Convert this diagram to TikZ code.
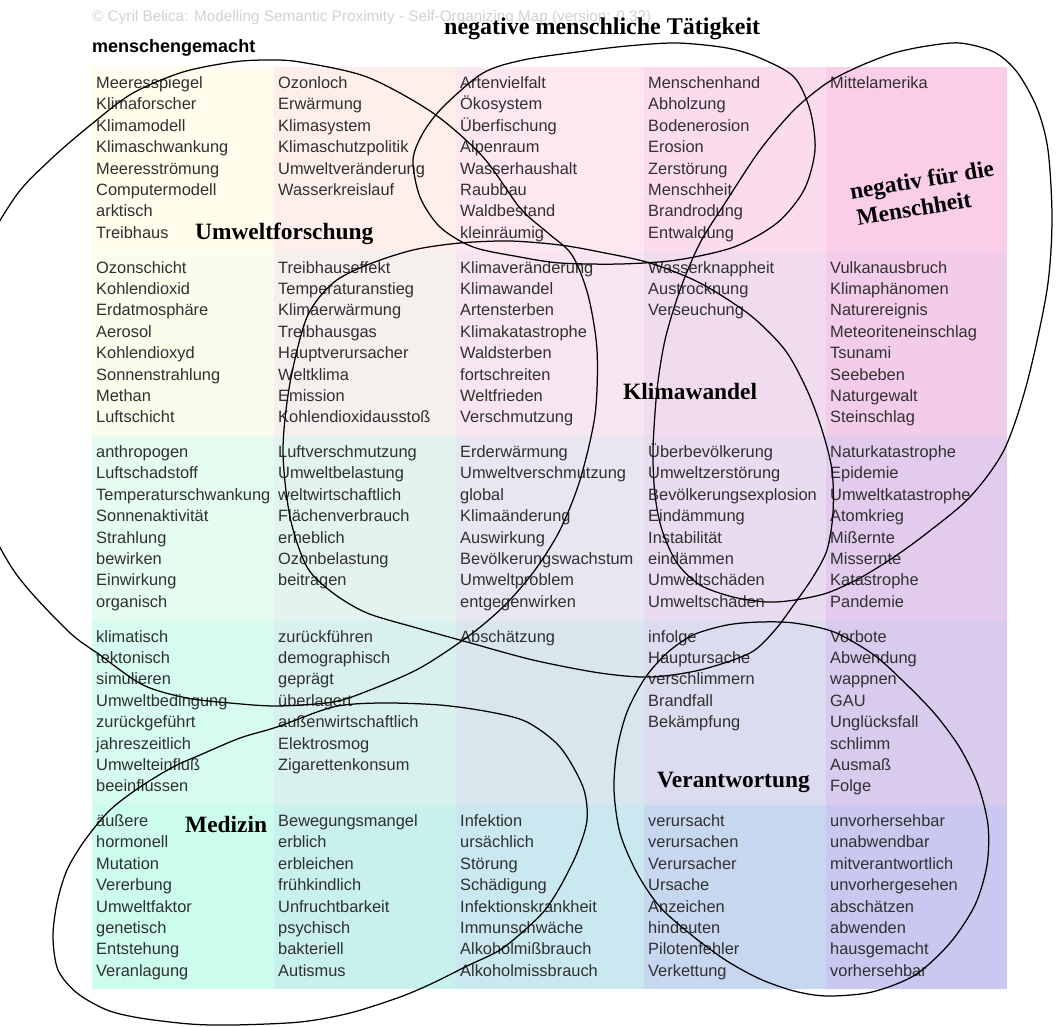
\documentclass[tikz,border=0pt]{standalone}
\usepackage{fontspec}
\setmainfont{Liberation Serif}
\newfontfamily\sansf{Liberation Sans}
\definecolor{wordgray}{HTML}{303030}
\definecolor{copygray}{HTML}{D2D2D2}
\definecolor{ca1}{HTML}{FFFDEB}\definecolor{ca2}{HTML}{FEEFEA}\definecolor{ca3}{HTML}{FEE7EE}\definecolor{ca4}{HTML}{FCDBEC}\definecolor{ca5}{HTML}{FACDE9}
\definecolor{cb1}{HTML}{F9FDEC}\definecolor{cb2}{HTML}{F5EFEE}\definecolor{cb3}{HTML}{F7E6EF}\definecolor{cb4}{HTML}{F1DCEF}\definecolor{cb5}{HTML}{F3CCE9}
\definecolor{cc1}{HTML}{E4FDF0}\definecolor{cc2}{HTML}{E3F3EF}\definecolor{cc3}{HTML}{E8E7F1}\definecolor{cc4}{HTML}{E9DCF1}\definecolor{cc5}{HTML}{E3CBEE}
\definecolor{cd1}{HTML}{D6FCEF}\definecolor{cd2}{HTML}{D8F1ED}\definecolor{cd3}{HTML}{D9E6EE}\definecolor{cd4}{HTML}{DCDCF0}\definecolor{cd5}{HTML}{D8CBEE}
\definecolor{ce1}{HTML}{CBFCEC}\definecolor{ce2}{HTML}{C8F0EC}\definecolor{ce3}{HTML}{C9E8EF}\definecolor{ce4}{HTML}{C8D7F0}\definecolor{ce5}{HTML}{C8C8F0}
\newcommand\wordfont{\sansf\fontsize{16.4}{20}\selectfont}
\newcommand\topicfont{\rmfamily\bfseries\fontsize{23.4}{27}\selectfont}
\newcommand\cellwords[4]{\foreach \myw [count=\idx from 0] in {#4} {\node[word] (#1-\idx) at (#2,{#3+21.5+21.4*\idx}) {\myw};}}
\begin{document}
\begin{tikzpicture}[x=1pt,y=-1pt,
  word/.style={anchor=base west, inner sep=0pt, font=\wordfont, text=wordgray},
  topic/.style={anchor=base west, inner sep=0pt, font=\topicfont, text=black},
  tiltedtopic/.style={anchor=center, inner sep=0pt, font=\topicfont, text=black, align=center, rotate=9.5},
  lasso/.style={draw=black, line width=1.25pt}]
\useasboundingbox (0,0) rectangle (1057,1026);
\clip (0,0) rectangle (1057,1026);
\fill[white] (0,0) rectangle (1057,1026);
% cell backgrounds
\fill[ca1] (92,67) rectangle (274.5,251.5);\fill[ca2] (274,67) rectangle (456.5,251.5);\fill[ca3] (456,67) rectangle (644.5,251.5);\fill[ca4] (644,67) rectangle (826.5,251.5);\fill[ca5] (826,67) rectangle (1007,251.5);
\fill[cb1] (92,251) rectangle (274.5,436.5);\fill[cb2] (274,251) rectangle (456.5,436.5);\fill[cb3] (456,251) rectangle (644.5,436.5);\fill[cb4] (644,251) rectangle (826.5,436.5);\fill[cb5] (826,251) rectangle (1007,436.5);
\fill[cc1] (92,436) rectangle (274.5,621);\fill[cc2] (274,436) rectangle (456.5,621);\fill[cc3] (456,436) rectangle (644.5,621);\fill[cc4] (644,436) rectangle (826.5,621);\fill[cc5] (826,436) rectangle (1007,621);
\fill[cd1] (92,620.5) rectangle (274.5,805.5);\fill[cd2] (274,620.5) rectangle (456.5,805.5);\fill[cd3] (456,620.5) rectangle (644.5,805.5);\fill[cd4] (644,620.5) rectangle (826.5,805.5);\fill[cd5] (826,620.5) rectangle (1007,805.5);
\fill[ce1] (92,805) rectangle (274.5,989);\fill[ce2] (274,805) rectangle (456.5,989);\fill[ce3] (456,805) rectangle (644.5,989);\fill[ce4] (644,805) rectangle (826.5,989);\fill[ce5] (826,805) rectangle (1007,989);
% words
\cellwords{a1}{96}{67}{Meeresspiegel,Klimaforscher,Klimamodell,Klimaschwankung,Meeresströmung,Computermodell,arktisch,Treibhaus}
\cellwords{a2}{278}{67}{Ozonloch,Erwärmung,Klimasystem,Klimaschutzpolitik,Umweltveränderung,Wasserkreislauf}
\cellwords{a3}{460}{67}{Artenvielfalt,Ökosystem,Überfischung,Alpenraum,Wasserhaushalt,Raubbau,Waldbestand,kleinräumig}
\cellwords{a4}{648}{67}{Menschenhand,Abholzung,Bodenerosion,Erosion,Zerstörung,Menschheit,Brandrodung,Entwaldung}
\cellwords{a5}{830}{67}{Mittelamerika}
\cellwords{b1}{96}{251.5}{Ozonschicht,Kohlendioxid,Erdatmosphäre,Aerosol,Kohlendioxyd,Sonnenstrahlung,Methan,Luftschicht}
\cellwords{b2}{278}{251.5}{Treibhauseffekt,Temperaturanstieg,Klimaerwärmung,Treibhausgas,Hauptverursacher,Weltklima,Emission,Kohlendioxidausstoß}
\cellwords{b3}{460}{251.5}{Klimaveränderung,Klimawandel,Artensterben,Klimakatastrophe,Waldsterben,fortschreiten,Weltfrieden,Verschmutzung}
\cellwords{b4}{648}{251.5}{Wasserknappheit,Austrocknung,Verseuchung}
\cellwords{b5}{830}{251.5}{Vulkanausbruch,Klimaphänomen,Naturereignis,Meteoriteneinschlag,Tsunami,Seebeben,Naturgewalt,Steinschlag}
\cellwords{c1}{96}{436}{anthropogen,Luftschadstoff,Temperaturschwankung,Sonnenaktivität,Strahlung,bewirken,Einwirkung,organisch}
\cellwords{c2}{278}{436}{Luftverschmutzung,Umweltbelastung,weltwirtschaftlich,Flächenverbrauch,erheblich,Ozonbelastung,beitragen}
\cellwords{c3}{460}{436}{Erderwärmung,Umweltverschmutzung,global,Klimaänderung,Auswirkung,Bevölkerungswachstum,Umweltproblem,entgegenwirken}
\cellwords{c4}{648}{436}{Überbevölkerung,Umweltzerstörung,Bevölkerungsexplosion,Eindämmung,Instabilität,eindämmen,Umweltschäden,Umweltschaden}
\cellwords{c5}{830}{436}{Naturkatastrophe,Epidemie,Umweltkatastrophe,Atomkrieg,Mißernte,Missernte,Katastrophe,Pandemie}
\cellwords{d1}{96}{620.5}{klimatisch,tektonisch,simulieren,Umweltbedingung,zurückgeführt,jahreszeitlich,Umwelteinfluß,beeinflussen}
\cellwords{d2}{278}{620.5}{zurückführen,demographisch,geprägt,überlagert,außenwirtschaftlich,Elektrosmog,Zigarettenkonsum}
\cellwords{d3}{460}{620.5}{Abschätzung}
\cellwords{d4}{648}{620.5}{infolge,Hauptursache,verschlimmern,Brandfall,Bekämpfung}
\cellwords{d5}{830}{620.5}{Vorbote,Abwendung,wappnen,GAU,Unglücksfall,schlimm,Ausmaß,Folge}
\cellwords{e1}{96}{805}{äußere,hormonell,Mutation,Vererbung,Umweltfaktor,genetisch,Entstehung,Veranlagung}
\cellwords{e2}{278}{805}{Bewegungsmangel,erblich,erbleichen,frühkindlich,Unfruchtbarkeit,psychisch,bakteriell,Autismus}
\cellwords{e3}{460}{805}{Infektion,ursächlich,Störung,Schädigung,Infektionskrankheit,Immunschwäche,Alkoholmißbrauch,Alkoholmissbrauch}
\cellwords{e4}{648}{805}{verursacht,verursachen,Verursacher,Ursache,Anzeichen,hindeuten,Pilotenfehler,Verkettung}
\cellwords{e5}{830}{805}{unvorhersehbar,unabwendbar,mitverantwortlich,unvorhergesehen,abschätzen,abwenden,hausgemacht,vorhersehbar}
% header texts
\node[anchor=base west, inner sep=0pt, text=copygray, font=\sansf\fontsize{15.3}{18}\selectfont] (copyright) at (92,21) {© Cyril Belica: Modelling Semantic Proximity - Self-Organizing Map (version: 0.32)};
\node[anchor=base west, inner sep=0pt, text=black, font=\sansf\bfseries\fontsize{18}{22}\selectfont] (menschengemacht) at (92,52) {menschengemacht};
\node[anchor=base west, inner sep=0pt, text=black, font=\rmfamily\bfseries\fontsize{24}{29}\selectfont] (negmt) at (444,34) {negative menschliche Tätigkeit};
% lassos
\draw[lasso] plot[smooth cycle] coordinates {(413,160) (423,133) (443,107) (483,73) (523,60) (577,52) (627,46) (677,43) (727,48) (760,58) (794,77) (810,110) (815,150) (804,190) (777,223) (734,247) (677,260) (620,264) (560,263) (520,257) (473,247) (440,227) (420,197)};
\draw[lasso] plot[smooth cycle] coordinates {(653,450) (657,390) (665,340) (680,290) (700,243) (727,200) (760,150) (794,110) (827,83) (860,66) (894,53) (927,46) (960,43) (994,52) (1017,72) (1037,108) (1048,150) (1052,220) (1047,290) (1027,383) (1004,450) (970,497) (927,533) (894,557) (860,578) (827,593) (795,600) (767,602) (733,597) (700,585) (677,563) (662,530) (655,495)};
\draw[lasso] plot[smooth cycle] coordinates {(283,450) (290,383) (307,317) (333,283) (367,265) (413,250) (460,243) (510,241) (560,245) (600,252) (650,263) (700,283) (750,315) (785,350) (807,390) (822,430) (832,470) (833,513) (827,550) (813,577) (795,603) (775,630) (750,653) (700,670) (650,677) (600,673) (533,660) (467,642) (417,628) (367,613) (333,593) (307,567) (290,517)};
\draw[lasso] plot[smooth cycle] coordinates {(13,200) (50,160) (93,123) (133,93) (183,72) (233,62) (267,60) (300,62) (367,77) (433,113) (483,157) (520,208) (548,233) (572,255) (588,295) (597,350) (595,415) (580,480) (560,530) (535,570) (505,605) (470,635) (420,668) (370,690) (333,702) (277,706) (230,703) (187,698) (143,685) (100,655) (67,630) (12,568) (-30,480) (-45,383) (-30,280)};
\draw[lasso] plot[smooth cycle] coordinates {(614,790) (617,750) (627,712) (645,678) (667,653) (693,635) (727,625) (760,622) (794,623) (834,632) (874,655) (905,683) (935,714) (960,748) (978,785) (988,825) (987,865) (975,905) (950,943) (915,975) (872,992) (827,996) (794,991) (760,979) (727,961) (694,937) (660,907) (637,873) (620,833)};
\draw[lasso] plot[smooth cycle] coordinates {(277,727) (240,738) (200,755) (173,767) (140,787) (110,810) (85,840) (67,870) (57,903) (53,937) (58,970) (77,993) (107,1010) (140,1018) (190,1024) (233,1025) (300,1022) (350,1013) (400,997) (433,983) (467,966) (500,950) (527,928) (545,910) (560,887) (577,853) (587,820) (583,787) (560,747) (527,722) (490,712) (440,705) (380,703) (333,707)};
% topic labels
\node[topic] (umweltforschung) at (195,239) {Umweltforschung};
\node[topic] (klimawandel) at (623,399) {Klimawandel};
\node[topic] (verantwortung) at (657,787) {Verantwortung};
\node[topic] (medizin) at (185,832) {Medizin};
\node[tiltedtopic] (negmenschheit) at (924,193) {negativ für die\\\hspace*{-25pt}Menschheit};
\end{tikzpicture}
\end{document}
